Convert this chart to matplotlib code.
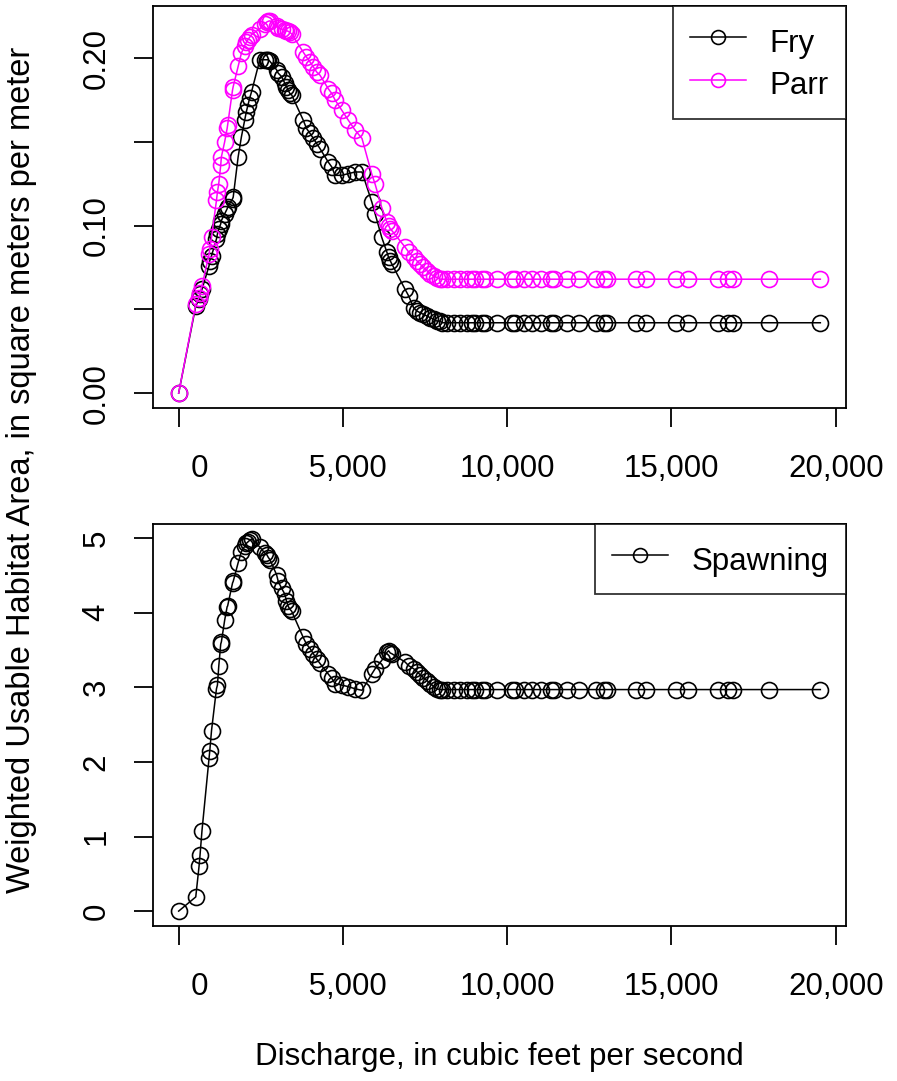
import numpy as np
import matplotlib
matplotlib.use("Agg")
import matplotlib.pyplot as plt

plt.rcParams['font.family'] = ['Liberation Sans', 'DejaVu Sans']

# discharge, cubic feet per second (shared by all three curves)
discharge = [0, 520, 620, 650, 710, 925, 945, 1000, 1150, 1180, 1220, 1280, 1300,
             1400, 1475, 1490, 1640, 1660, 1810, 1910, 2010, 2060, 2110, 2160,
             2220, 2470, 2620, 2680, 2730, 2780, 2980, 3030, 3130, 3230, 3280,
             3330, 3380, 3440, 3790, 3890, 4000, 4100, 4200, 4300, 4550, 4660,
             4760, 4960, 5160, 5370, 5580, 5880, 5980, 6180, 6340, 6390, 6440,
             6490, 6890, 7000, 7150, 7250, 7350, 7450, 7560, 7660, 7760, 7860,
             7960, 8013, 8166, 8368, 8572, 8776, 8929, 9030, 9233, 9335, 9692,
             10149, 10250, 10504, 10760, 11013, 11318, 11420, 11827, 12181,
             12690, 12945, 13047, 13911, 14216, 15131, 15488, 16403, 16708,
             16861, 17979, 19530]

fry = [0, 0.052, 0.056, 0.059, 0.062, 0.076, 0.079, 0.082, 0.092, 0.095, 0.098,
       0.101, 0.103, 0.107, 0.110, 0.111, 0.116, 0.117, 0.141, 0.153, 0.163,
       0.168, 0.172, 0.176, 0.180, 0.199, 0.199, 0.199, 0.199, 0.198, 0.193,
       0.191, 0.189, 0.185, 0.183, 0.181, 0.179, 0.178, 0.163, 0.158, 0.155,
       0.152, 0.149, 0.146, 0.138, 0.135, 0.130, 0.130, 0.131, 0.132, 0.132,
       0.114, 0.107, 0.093, 0.084, 0.081, 0.079, 0.077, 0.062, 0.058, 0.051,
       0.049, 0.048, 0.047, 0.046, 0.045, 0.044, 0.043, 0.043] + [0.042] * 31

parr = [0, 0.053, 0.057, 0.060, 0.064, 0.083, 0.086, 0.093, 0.115, 0.120, 0.125,
        0.136, 0.141, 0.150, 0.158, 0.160, 0.181, 0.183, 0.195, 0.203, 0.2075,
        0.2095, 0.211, 0.2124, 0.214, 0.2175, 0.2205, 0.2215, 0.222, 0.2222,
        0.2193, 0.218, 0.2173, 0.217, 0.2164, 0.216, 0.2154, 0.2144, 0.2036,
        0.2006, 0.1976, 0.1947, 0.1917, 0.1898, 0.1818, 0.1789, 0.1750, 0.169,
        0.163, 0.157, 0.152, 0.1306, 0.1247, 0.1108, 0.102, 0.100, 0.098, 0.097,
        0.0872, 0.0842, 0.081, 0.079, 0.077, 0.075, 0.073, 0.071, 0.070, 0.069,
        0.068] + [0.068] * 31

spawning = [0, 0.19, 0.60, 0.75, 1.08, 2.05, 2.14, 2.42, 2.98, 3.03, 3.28, 3.58,
            3.61, 3.90, 4.08, 4.09, 4.40, 4.42, 4.67, 4.82, 4.89, 4.93, 4.95,
            4.97, 4.99, 4.88, 4.80, 4.78, 4.74, 4.71, 4.51, 4.42, 4.33, 4.25,
            4.16, 4.09, 4.05, 4.02, 3.67, 3.58, 3.52, 3.45, 3.38, 3.32, 3.18,
            3.12, 3.05, 3.03, 3.01, 2.98, 2.96, 3.18, 3.25, 3.36, 3.47, 3.49,
            3.46, 3.45, 3.34, 3.29, 3.25, 3.21, 3.17, 3.13, 3.09, 3.05, 3.01,
            2.98, 2.97] + [2.97] * 31

x_ticks = [0, 5000, 10000, 15000, 20000]
x_labels = ["     0", " 5,000", "10,000", "15,000", "20,000"]
top_ticks = [0, 0.05, 0.10, 0.15, 0.20]
top_labels = ["0.00", "", "0.10", "", "0.20"]
bot_ticks = [0, 1, 2, 3, 4, 5]

fs = 22.5
W, H = 897, 1081
fig = plt.figure(figsize=(W / 100, H / 100), dpi=100)

def frac(l, t, r, b):
    return [l / W, 1 - b / H, (r - l) / W, (b - t) / H]

ax1 = fig.add_axes(frac(153, 6, 846, 408))
ax2 = fig.add_axes(frac(153, 524, 846, 926))

mk = dict(marker='o', markersize=11.5, markerfacecolor='none', markeredgewidth=1.2,
          linewidth=1.1)
ax1.plot(discharge, fry, color='black', label='Fry', **mk)
ax1.plot(discharge, parr, color='magenta', label='Parr', **mk)
ax2.plot(discharge, spawning, color='black', label='Spawning', **mk)

def pad_range(lo, hi):
    d = (hi - lo) * 0.04
    return lo - d, hi + d

for ax in (ax1, ax2):
    ax.set_xlim(*pad_range(0, max(discharge)))
    ax.set_xticks(x_ticks)
    ax.set_xticklabels(x_labels)
    for s in ax.spines.values():
        s.set_linewidth(1.3)
    ax.tick_params(length=14, width=1.3, labelsize=fs, pad=16)
    ax.tick_params(axis='x', pad=19)

ax1.set_ylim(*pad_range(0, max(parr)))
ax1.set_yticks(top_ticks)
ax1.set_yticklabels(top_labels, rotation=90, va='center')
ax2.set_ylim(*pad_range(0, max(spawning)))
ax2.set_yticks(bot_ticks)
ax2.set_yticklabels([str(v) for v in bot_ticks], rotation=90, va='center')

leg_kw = dict(loc='upper right', fontsize=fs, frameon=True, fancybox=False,
              edgecolor='black', borderaxespad=0, handlelength=1.8,
              handleheight=1.4, handletextpad=0.75, labelspacing=0.2,
              borderpad=0.55)
for ax in (ax1, ax2):
    leg = ax.legend(**leg_kw)
    leg.get_frame().set_linewidth(1.3)
    for h in leg.legend_handles:
        h.set_markersize(10)

fig.text(499, H - 1057, "Discharge, in cubic feet per second", fontsize=fs,
         ha='center', va='center', transform=None)
fig.text(22, H - 470, "Weighted Usable Habitat Area, in square meters per meter",
         fontsize=23.5, ha='center', va='center', rotation=90, transform=None)

fig.savefig("out.png", dpi=100)
